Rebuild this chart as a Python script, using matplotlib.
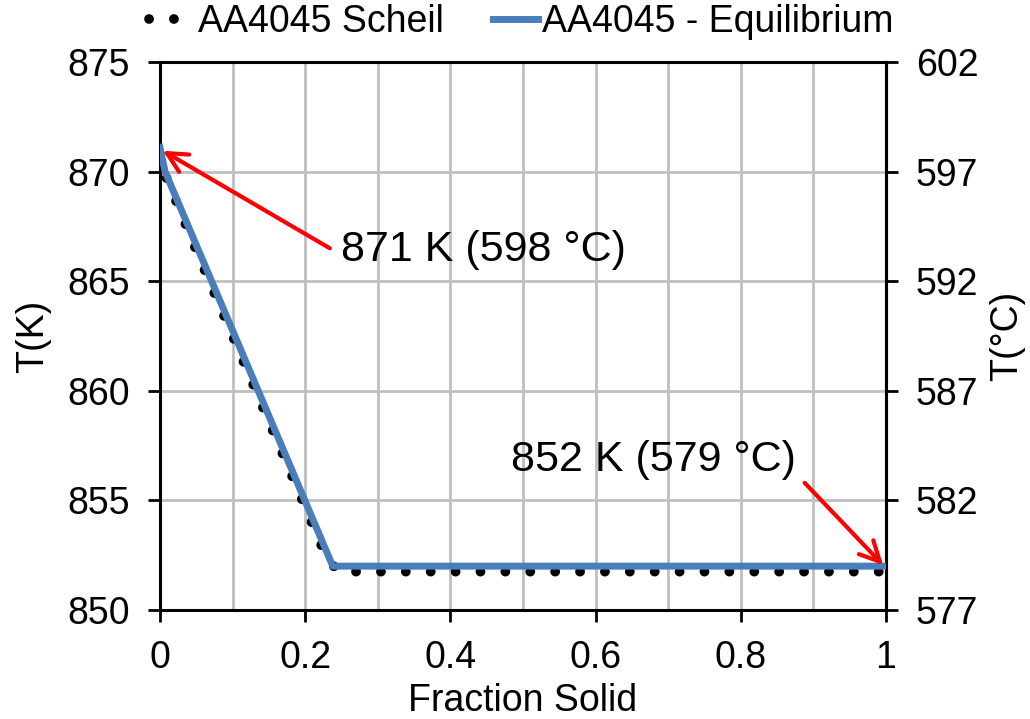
import matplotlib.pyplot as plt
from matplotlib.ticker import MultipleLocator, FuncFormatter

plt.rcParams['font.family'] = ['Liberation Sans', 'DejaVu Sans']

# equilibrium solidification path
frac_eq = [0.0, 0.007, 0.238, 1.0]
temp_eq = [871.1, 870.0, 852.0, 852.0]

# Scheil solidification path
frac_scheil = [0.0, 0.008, 0.05, 0.10, 0.15, 0.20, 0.228, 0.245, 1.0]
temp_scheil = [870.8, 869.8, 866.4, 862.5, 858.6, 854.7, 852.5, 851.75, 851.75]

c_ticks = [577, 582, 587, 592, 597, 602]

# annotations: text, text pos, arrow tail, arrow tip
notes = [
    ('871 K (598 °C)', (0.250, 866.4), (0.234, 866.5), (0.004, 870.95)),
    ('852 K (579 °C)', (0.483, 856.85), (0.888, 855.8), (0.996, 852.05)),
]

fs = 27

fig = plt.figure(figsize=(10.3, 7.19), dpi=100)
ax = fig.add_axes([0.1553, 0.1516, 0.7049, 0.7622])

ax.plot(frac_scheil, temp_scheil, color='black', lw=7, linestyle=(0, (0.01, 2.55)),
        dash_capstyle='round', label='AA4045 Scheil', zorder=3)
ax.plot(frac_eq, temp_eq, color='#4A7EBB', lw=5, label='AA4045 - Equilibrium', zorder=4)

ax.set_xlim(0, 1)
ax.set_ylim(850, 875)
ax.xaxis.set_major_locator(MultipleLocator(0.2))
ax.xaxis.set_minor_locator(MultipleLocator(0.1))
ax.yaxis.set_major_locator(MultipleLocator(5))
ax.xaxis.set_major_formatter(FuncFormatter(lambda v, p: f'{v:g}'))
ax.grid(which='both', color='#BFBFBF', lw=2, zorder=0)
ax.set_axisbelow(True)
ax.tick_params(which='minor', length=0)
ax.tick_params(which='major', direction='out', length=8.5, width=2, labelsize=fs, pad=13)
for s in ax.spines.values():
    s.set_linewidth(2.2)

sec = ax.secondary_yaxis('right', functions=(lambda k: k - 273, lambda c: c + 273))
sec.set_yticks(c_ticks)
sec.tick_params(direction='out', length=8.5, width=2, labelsize=fs, pad=13)
sec.spines['right'].set_linewidth(2.2)
sec.set_ylabel('T(°C)', fontsize=fs, rotation=90, labelpad=8)

ax.set_xlabel('Fraction Solid', fontsize=fs, labelpad=5)
ax.set_ylabel('T(K)', fontsize=fs, labelpad=12)

for txt, tpos, tail, tip in notes:
    ax.annotate('', xy=tip, xytext=tail,
                arrowprops=dict(arrowstyle='->', color='red', lw=3, mutation_scale=36,
                                shrinkA=0, shrinkB=0), zorder=5)
    ax.text(tpos[0], tpos[1], txt, fontsize=31, ha='left', va='center', zorder=6)

fig.legend(loc='center', bbox_to_anchor=(0.506, 0.969), ncol=2, frameon=False, fontsize=fs,
           handlelength=1.2, handletextpad=0.12, columnspacing=1.3, borderaxespad=0)

fig.savefig('out.png', dpi=100)
